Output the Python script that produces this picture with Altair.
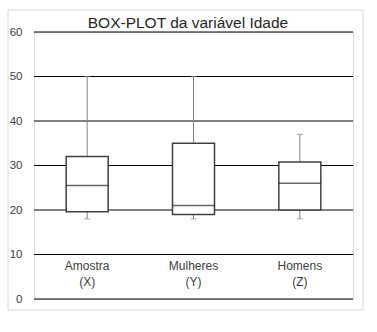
import altair as alt
import pandas as pd

categories = ["Amostra\n(X)", "Mulheres\n(Y)", "Homens\n(Z)"]
keys = ["Amostra", "Mulheres", "Homens"]
mins = [18, 18, 18]
q1s = [19.6, 19, 20]
medians = [25.5, 21, 26]
q3s = [32, 35, 30.8]
maxs = [50, 50, 37]
y_ticks = [0, 10, 20, 30, 40, 50, 60]

df = pd.DataFrame({"key": keys, "label": categories, "min": mins, "q1": q1s,
                   "median": medians, "q3": q3s, "max": maxs})
grid_df = pd.DataFrame({"v": y_ticks})

FONT = "Liberation Sans"
W, H = 319, 267

x = alt.X("key:N", sort=keys, scale=alt.Scale(paddingInner=0, paddingOuter=0), axis=None)
yscale = alt.Scale(domain=[0, 60], nice=False, zero=True)

border = alt.Chart(pd.DataFrame({"a": [0]})).mark_rect(
    filled=False, stroke="#d9d9d9", strokeWidth=1
).encode(x=alt.value(-26), x2=alt.value(329), y=alt.value(-22), y2=alt.value(278))

grid = alt.Chart(grid_df).mark_rule(color="black", strokeWidth=1).encode(
    y=alt.Y("v:Q", scale=yscale,
            axis=alt.Axis(values=y_ticks, title=None, grid=False, domain=False, ticks=False,
                          labelPadding=12, labelFont=FONT, labelFontSize=11.5,
                          labelColor="#404040", zindex=2)),
    x=alt.value(0), x2=alt.value(W)
)

whisk = alt.Chart(df).mark_rule(color="#808080", strokeWidth=1).encode(
    x=x, y=alt.Y("min:Q", scale=yscale), y2="max:Q")

box = alt.Chart(df).mark_bar(size=42, fill="white", stroke="#404040", strokeWidth=1.5).encode(
    x=x, y=alt.Y("q1:Q", scale=yscale), y2="q3:Q")

med = alt.Chart(df).mark_tick(size=42, color="#262626", thickness=1.5).encode(
    x=x, y=alt.Y("median:Q", scale=yscale))

cap_lo = alt.Chart(df).mark_tick(size=6, color="#808080", thickness=1).encode(
    x=x, y=alt.Y("min:Q", scale=yscale))
cap_hi = alt.Chart(df).mark_tick(size=6, color="#808080", thickness=1).encode(
    x=x, y=alt.Y("max:Q", scale=yscale))

labels = alt.Chart(df).mark_text(font=FONT, fontSize=12, color="#404040",
                                 lineBreak="\n", lineHeight=16, baseline="top").encode(
    x=x, y=alt.value(229), text="label:N")

title = alt.Chart(pd.DataFrame({"t": ["BOX-PLOT da variável Idade"]})).mark_text(
    font=FONT, fontSize=15.5, color="#262626", baseline="middle"
).encode(x=alt.value(154), y=alt.value(-9), text="t:N")

chart = alt.layer(border, grid, whisk, box, med, cap_lo, cap_hi, labels, title).properties(
    width=W, height=H,
    autosize=alt.AutoSizeParams(type="none"),
    padding={"left": 34, "top": 32, "right": 24, "bottom": 33},
).configure_view(stroke=None).configure(background="white")

chart.save("out.html", embed_options={"renderer": "svg", "actions": False})
